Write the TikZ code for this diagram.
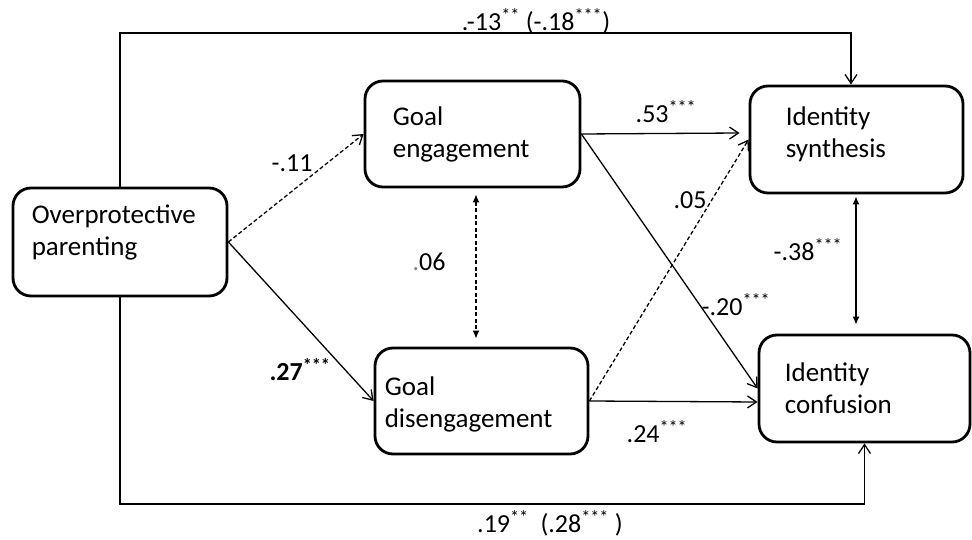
\documentclass[tikz,border=0pt]{standalone}
\usepackage{fontspec}
\setmainfont{Carlito}
\usetikzlibrary{arrows.meta,calc}
\newcommand{\boxfont}{\fontsize{27}{32}\selectfont}
\newcommand{\lblfont}{\fontsize{26}{30}\selectfont}
\newcommand{\twolines}[2]{\begin{tabular}[t]{@{}l@{}}#1\\#2\end{tabular}}
\begin{document}
\begin{tikzpicture}[x=1pt,y=-1pt,
  box/.style={draw, line width=2.8pt, rounded corners=18pt, anchor=center, inner sep=0pt},
  txt/.style={font=\boxfont, anchor=base west, inner sep=0pt},
  conn/.style={line width=1.3pt, -{Straight Barb[length=9pt,width=12pt]}},
  dsh/.style={dash pattern=on 4pt off 2.5pt},
  dbl/.style={line width=1.3pt, {Latex[length=8pt,width=7pt]}-{Latex[length=8pt,width=7pt]}},
  lbl/.style={font=\lblfont, inner sep=0pt}]
\fill[white] (0,0) rectangle (972,540);
\useasboundingbox (0,0) rectangle (972,540);

\node[box, minimum width=214pt, minimum height=108pt] (OP) at (120,242) {};
\node[box, minimum width=215pt, minimum height=106pt] (GE) at (472.5,134) {};
\node[box, minimum width=213pt, minimum height=106pt] (GD) at (481.5,401) {};
\node[box, minimum width=213pt, minimum height=107pt] (IS) at (856.5,139.5) {};
\node[box, minimum width=211pt, minimum height=107pt] (IC) at (864.5,388.5) {};

\node[txt] (OPt) at ($(OP.north west)+(20,37)$) {\twolines{Overprotective}{parenting}};
\node[txt] (GEt) at ($(GE.north west)+(29,46)$) {\twolines{Goal}{engagement}};
\node[txt] (GDt) at ($(GD.north west)+(11,49)$) {\twolines{Goal}{disengagement}};
\node[txt] (ISt) at ($(IS.north west)+(37,41)$) {\twolines{Identity}{synthesis}};
\node[txt] (ICt) at ($(IC.north west)+(27,48)$) {\twolines{Identity}{confusion}};

\coordinate (tt) at (851,33);
\coordinate (bb) at (864.5,504);
\draw[conn] (OP.north) |- (tt) -- (tt |- IS.north);
\draw[conn] (OP.south) |- (bb) -- (IC.south);
\draw[conn,dsh] (OP.east) -- (GE.west);
\draw[conn] (OP.east) -- (GD.west);
\draw[conn] (GE.east) -- ([xshift=-9pt,yshift=6.5pt]IS.west);
\draw[conn] (GE.east) -- (IC.west);
\draw[conn,dsh] (GD.east) -- (IS.west);
\draw[conn] (GD.east) -- ([yshift=-13.5pt]IC.west);
\draw[dbl,dsh] ([xshift=3.5pt,yshift=-6pt]GE.south) -- ([xshift=-5.5pt,yshift=8pt]GD.north);
\draw[dbl] ([xshift=-0.5pt,yshift=-2pt]IS.south) -- ([xshift=-8.5pt,yshift=9pt]IC.north);

\node[lbl] (l1) at (536,21) {.-13\textsuperscript{**} (-.18\textsuperscript{***})};
\node[lbl] (l2) at (550,523) {.19\textsuperscript{**} \ (.28\textsuperscript{***} )};
\node[lbl] (l3) at (292,163) {-.11};
\node[lbl, font=\lblfont\bfseries] (l4) at (300,370) {.27\textsuperscript{***}};
\node[lbl] (l5) at (666,112) {.53\textsuperscript{***}};
\node[lbl] (l6) at (690,200) {.05};
\node[lbl] (l7) at (736,305) {-.20\textsuperscript{***}};
\node[lbl] (l8) at (657,432) {.24\textsuperscript{***}};
\node[lbl] (l9) at (429,262) {{\color{gray}.}06};
\node[lbl] (l10) at (808,250) {-.38\textsuperscript{***}};
\end{tikzpicture}
\end{document}
